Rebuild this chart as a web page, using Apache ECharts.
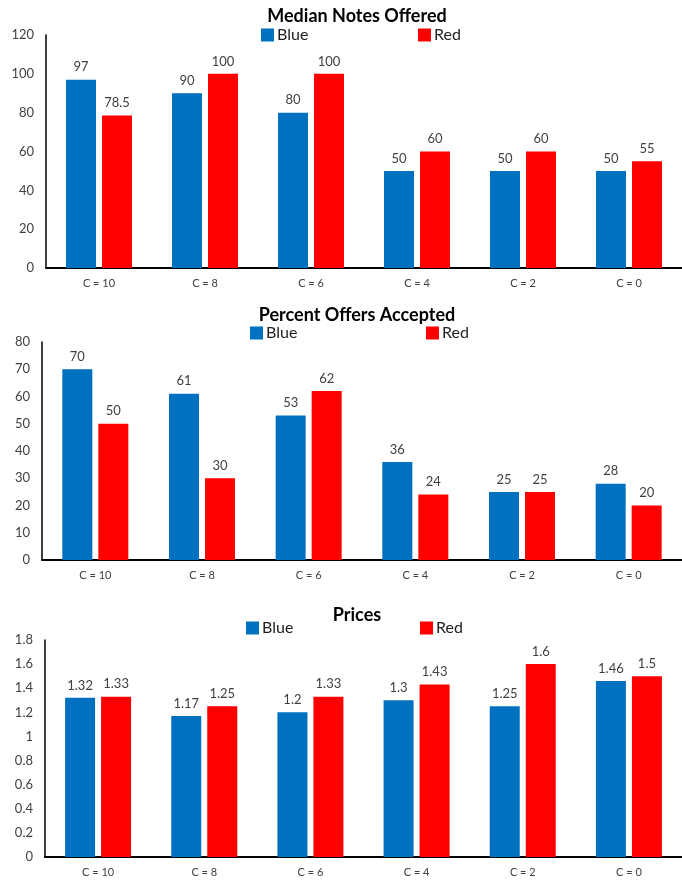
<!DOCTYPE html>
<html>
<head>
<meta charset="utf-8">
<script src="https://cdn.jsdelivr.net/npm/echarts@6/dist/echarts.min.js"></script>
<style>
  html, body { margin: 0; padding: 0; background: #fff; }
  #chart { width: 682px; height: 882px; }
</style>
</head>
<body>
<div id="chart"></div>
<script>
// Categories shared by all three panels
const categories = ['C = 10', 'C = 8', 'C = 6', 'C = 4', 'C = 2', 'C = 0'];

// Panel 1: Median Notes Offered
const notesBlue = [97, 90, 80, 50, 50, 50];
const notesRed = [78.5, 100, 100, 60, 60, 55];

// Panel 2: Percent Offers Accepted
const acceptBlue = [70, 61, 53, 36, 25, 28];
const acceptRed = [50, 30, 62, 24, 25, 20];

// Panel 3: Prices
const priceBlue = [1.32, 1.17, 1.2, 1.3, 1.25, 1.46];
const priceRed = [1.33, 1.25, 1.33, 1.43, 1.6, 1.5];

const titles = ['Median Notes Offered', 'Percent Offers Accepted', 'Prices'];
const yMax = [120, 80, 1.8];
const yStep = [20, 10, 0.2];

const FONT = 'Lato, "Liberation Sans", sans-serif';
const BLUE = '#0070C0';
const RED = '#FF0000';
const TXT = '#404040';

// Panel geometry
const panels = [
  { left: 46, top: 35, height: 233, width: 642, titleY: 7, legendY: 27, blueX: 261, redX: 418 },
  { left: 42, top: 342, height: 218, width: 645, titleY: 306, legendY: 325, blueX: 250, redX: 426 },
  { left: 45, top: 640, height: 217, width: 642, titleY: 606, legendY: 620, blueX: 246, redX: 420 }
];
const seriesData = [[notesBlue, notesRed], [acceptBlue, acceptRed], [priceBlue, priceRed]];

const option = {
  animation: false,
  backgroundColor: '#fff',
  textStyle: { fontFamily: FONT },
  title: panels.map((p, i) => ({
    text: titles[i],
    left: 357,
    top: p.titleY,
    padding: 0,
    textAlign: 'center',
    textStyle: { fontFamily: FONT, fontSize: 18, fontWeight: 'bold', color: '#000' }
  })),
  legend: [],
  grid: panels.map(p => ({ left: p.left, top: p.top, width: p.width, height: p.height, containLabel: false })),
  xAxis: panels.map((p, i) => ({
    type: 'category',
    gridIndex: i,
    data: categories,
    axisLine: { show: true, lineStyle: { color: '#000', width: 2 } },
    axisTick: { show: false },
    axisLabel: { color: TXT, fontSize: 11, margin: 10, fontFamily: FONT }
  })),
  yAxis: panels.map((p, i) => ({
    type: 'value',
    gridIndex: i,
    min: 0,
    max: yMax[i],
    interval: yStep[i],
    axisLine: { show: true, lineStyle: { color: '#000', width: 1.5 } },
    axisTick: { show: false },
    splitLine: { show: false },
    axisLabel: { color: TXT, fontSize: 13, margin: 12, fontFamily: FONT }
  })),
  series: []
};

panels.forEach((p, i) => {
  ['Blue', 'Red'].forEach((name, k) => {
    option.series.push({
      name: name,
      type: 'bar',
      xAxisIndex: i,
      yAxisIndex: i,
      data: seriesData[i][k],
      barWidth: 30,
      barGap: '20%',
      itemStyle: { color: k === 0 ? BLUE : RED },
      label: {
        show: true,
        position: 'top',
        distance: 6,
        color: TXT,
        fontSize: 13,
        fontFamily: FONT
      }
    });
  });
  const legendText = { fontSize: 16, color: '#222', fontFamily: FONT, padding: [0, 0, 0, -2] };
  option.legend.push(
    {
      data: ['Blue'], left: p.blueX, top: p.legendY, itemWidth: 13, itemHeight: 13,
      itemGap: 0, icon: 'rect', padding: 0, textStyle: legendText
    },
    {
      data: ['Red'], left: p.redX, top: p.legendY, itemWidth: 13, itemHeight: 13,
      itemGap: 0, icon: 'rect', padding: 0, textStyle: legendText
    }
  );
});

const chart = echarts.init(document.getElementById('chart'), null, { renderer: 'canvas' });
chart.setOption(option);
</script>
</body>
</html>
